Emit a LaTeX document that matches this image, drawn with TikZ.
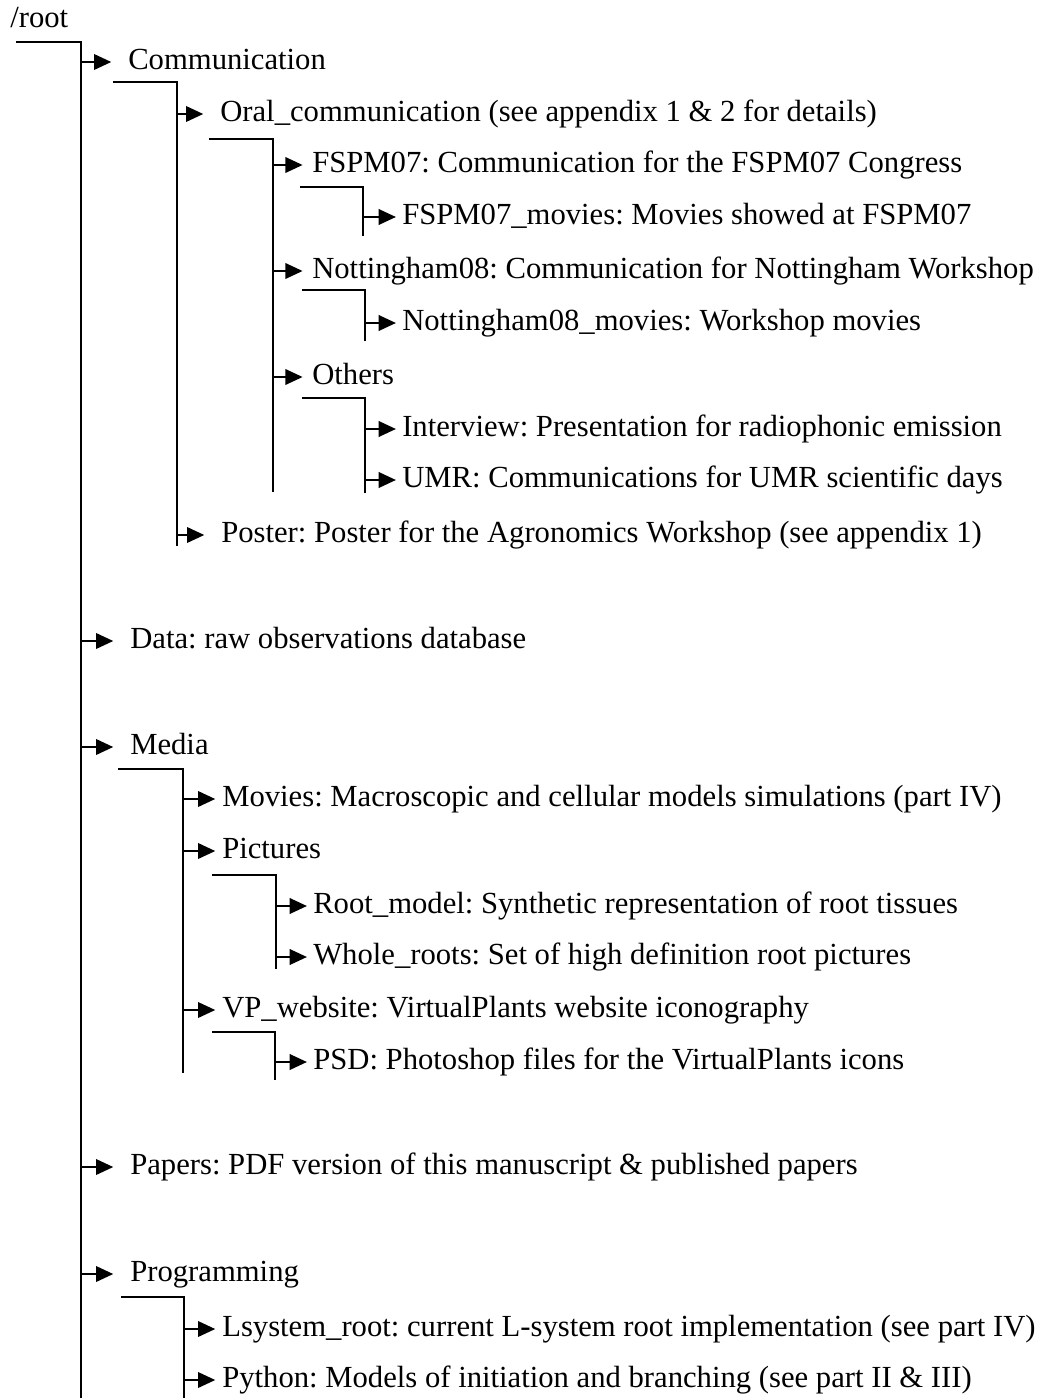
\documentclass[tikz,border=0pt]{standalone}
\usepackage{fontspec}
\setmainfont{Liberation Serif}
\usetikzlibrary{arrows.meta}
\frenchspacing
\begin{document}
\begin{tikzpicture}[x=0.75pt,y=-0.75pt,
  lbl/.style={anchor=west,inner sep=0pt,font=\fontsize{23}{27}\selectfont,text height=15.5pt,text depth=4.25pt},
  brk/.style={line width=2pt},
  arr/.style={line width=2pt,-{Triangle[length=13pt,width=11.5pt]}},
]
\useasboundingbox[fill=white] (0,0) rectangle (1045,1398);
% nodes
\node[lbl] (root) at (10,20) {/root};
\node[lbl] (comm) at (128,62) {Communication};
\node[lbl] (oral) at (220,114) {Oral\_communication (see appendix 1 \& 2 for details)};
\node[lbl] (fspm) at (312,165) {FSPM07: Communication for the FSPM07 Congress};
\node[lbl] (fspmmov) at (402,217) {FSPM07\_movies: Movies showed at FSPM07};
\node[lbl] (nott) at (312,271) {Nottingham08: Communication for Nottingham Workshop};
\node[lbl] (nottmov) at (402,323) {Nottingham08\_movies: Workshop movies};
\node[lbl] (others) at (312,377) {Others};
\node[lbl] (interview) at (402,429) {Interview: Presentation for radiophonic emission};
\node[lbl] (umr) at (402,480) {UMR: Communications for UMR scientific days};
\node[lbl] (poster) at (221,535) {Poster: Poster for the Agronomics Workshop (see appendix 1)};
\node[lbl] (data) at (130,641) {Data: raw observations database};
\node[lbl] (media) at (130,747) {Media};
\node[lbl] (movies) at (222,799) {Movies: Macroscopic and cellular models simulations (part IV)};
\node[lbl] (pictures) at (222,851) {Pictures};
\node[lbl] (rootmodel) at (313,906) {Root\_model: Synthetic representation of root tissues};
\node[lbl] (whole) at (313,957) {Whole\_roots: Set of high definition root pictures};
\node[lbl] (vp) at (222,1010) {VP\_website: VirtualPlants website iconography};
\node[lbl] (psd) at (313,1062) {PSD: Photoshop files for the VirtualPlants icons};
\node[lbl] (papers) at (130,1167) {Papers: PDF version of this manuscript \& published papers};
\node[lbl] (prog) at (130,1274) {Programming};
\node[lbl] (lsys) at (222,1329) {Lsystem\_root: current L-system root implementation (see part IV)};
\node[lbl] (python) at (222,1380) {Python: Models of initiation and branching (see part II \& III)};
% bracket corners
\coordinate (bRoot) at (81,42);   \coordinate (eRoot) at (81,1398);
\coordinate (bComm) at (177,82);  \coordinate (eComm) at (177,546);
\coordinate (bOral) at (273,139); \coordinate (eOral) at (273,492);
\coordinate (bFspm) at (363,187); \coordinate (eFspm) at (363,236);
\coordinate (bNott) at (365,290); \coordinate (eNott) at (365,341);
\coordinate (bOth) at (365,398);  \coordinate (eOth) at (365,493);
\coordinate (bMedia) at (183,769); \coordinate (eMedia) at (183,1073);
\coordinate (bPic) at (276,875);  \coordinate (ePic) at (276,969);
\coordinate (bVp) at (275,1032);  \coordinate (eVp) at (275,1080);
\coordinate (bProg) at (184,1297); \coordinate (eProg) at (184,1398);
% brackets
\draw[brk] (16,42) -- (bRoot) -- (eRoot);
\draw[brk] (113,82) -- (bComm) -- (eComm);
\draw[brk] (209,139) -- (bOral) -- (eOral);
\draw[brk] (300,187) -- (bFspm) -- (eFspm);
\draw[brk] (302,290) -- (bNott) -- (eNott);
\draw[brk] (302,398) -- (bOth) -- (eOth);
\draw[brk] (118,769) -- (bMedia) -- (eMedia);
\draw[brk] (212,875) -- (bPic) -- (ePic);
\draw[brk] (212,1032) -- (bVp) -- (eVp);
\draw[brk] (121,1297) -- (bProg) -- (eProg);
% arrows
\draw[arr,shorten >=12.5pt] (bRoot |- comm.west) -- (comm.west);
\draw[arr,shorten >=12.5pt] (bRoot |- data.west) -- (data.west);
\draw[arr,shorten >=12.5pt] (bRoot |- media.west) -- (media.west);
\draw[arr,shorten >=12.5pt] (bRoot |- papers.west) -- (papers.west);
\draw[arr,shorten >=12.5pt] (bRoot |- prog.west) -- (prog.west);
\draw[arr,shorten >=12.5pt] (bComm |- oral.west) -- (oral.west);
\draw[arr,shorten >=12.5pt] (bComm |- poster.west) -- (poster.west);
\draw[arr,shorten >=7pt] (bOral |- fspm.west) -- (fspm.west);
\draw[arr,shorten >=7pt] (bOral |- nott.west) -- (nott.west);
\draw[arr,shorten >=7pt] (bOral |- others.west) -- (others.west);
\draw[arr,shorten >=4.5pt] (bFspm |- fspmmov.west) -- (fspmmov.west);
\draw[arr,shorten >=4.5pt] (bNott |- nottmov.west) -- (nottmov.west);
\draw[arr,shorten >=4.5pt] (bOth |- interview.west) -- (interview.west);
\draw[arr,shorten >=4.5pt] (bOth |- umr.west) -- (umr.west);
\draw[arr,shorten >=5pt] (bMedia |- movies.west) -- (movies.west);
\draw[arr,shorten >=5pt] (bMedia |- pictures.west) -- (pictures.west);
\draw[arr,shorten >=5pt] (bMedia |- vp.west) -- (vp.west);
\draw[arr,shorten >=4.5pt] (bPic |- rootmodel.west) -- (rootmodel.west);
\draw[arr,shorten >=4.5pt] (bPic |- whole.west) -- (whole.west);
\draw[arr,shorten >=4.5pt] (bVp |- psd.west) -- (psd.west);
\draw[arr,shorten >=5pt] (bProg |- lsys.west) -- (lsys.west);
\draw[arr,shorten >=5pt] (bProg |- python.west) -- (python.west);
\end{tikzpicture}
\end{document}
